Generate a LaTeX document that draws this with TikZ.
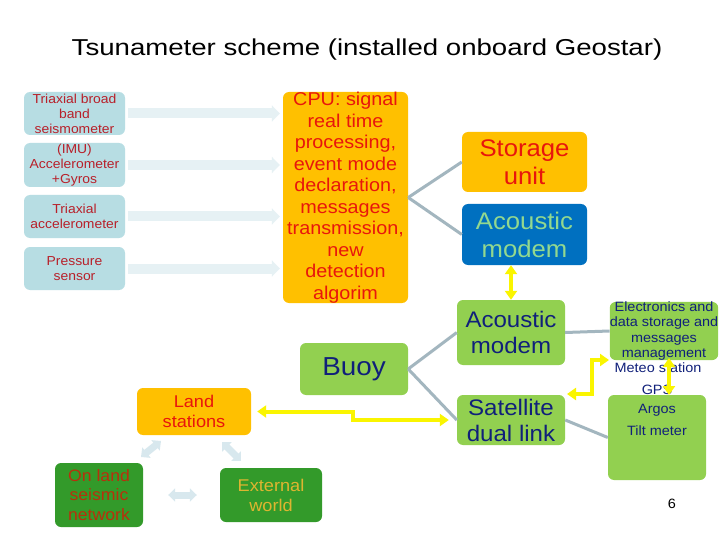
\documentclass[tikz,border=0pt]{standalone}
\usepackage{fontspec}
\setmainfont[FakeStretch=1.07]{Liberation Sans}
\newfontfamily\titlefont[FakeStretch=1.2]{Liberation Sans}
\usetikzlibrary{arrows.meta}
\definecolor{tealbox}{HTML}{B7DDE3}
\definecolor{sensred}{HTML}{B8202A}
\definecolor{faintc}{HTML}{E6F1F4}
\definecolor{faintd}{HTML}{D8E8EE}
\definecolor{orng}{HTML}{FFC000}
\definecolor{cpured}{HTML}{E8160C}
\definecolor{blu}{HTML}{0070C0}
\definecolor{mint}{HTML}{92D88F}
\definecolor{grn}{HTML}{92D050}
\definecolor{navy}{HTML}{10207A}
\definecolor{grayc}{HTML}{A3B6BF}
\definecolor{yel}{HTML}{FAF500}
\definecolor{dgrn}{HTML}{339A2A}
\definecolor{brred}{HTML}{B8300C}
\definecolor{gold}{HTML}{DDB530}
\begin{document}
\begin{tikzpicture}[x=1pt,y=-1pt]
\tikzset{
  rbox/.style={rounded corners=6pt, inner sep=0pt, align=center, anchor=center},
  sensor/.style={rbox, fill=tealbox, text=sensred, minimum width=101pt, minimum height=43pt, font=\fontsize{13}{15}\selectfont},
  orangebox/.style={rbox, fill=orng, text=cpured},
  greenbox/.style={rbox, fill=grn, text=navy},
  darkbox/.style={rbox, fill=dgrn},
  faint/.style={draw=faintc, line width=10pt, -{Triangle[length=8pt,width=16pt]}},
  faintdbl/.style={draw=faintd, line width=7pt, {Triangle[length=7pt,width=13pt]}-{Triangle[length=7pt,width=13pt]}},
  ylw/.style={draw=yel, line width=4pt, {Triangle[length=9pt,width=12pt]}-{Triangle[length=9pt,width=12pt]}},
  gline/.style={draw=grayc, line width=3pt},
  plain/.style={inner sep=0pt, anchor=center, text=navy, font=\fontsize{13.5}{15}\selectfont}
}
\useasboundingbox (0,0) rectangle (720,540);
\fill[white] (0,0) rectangle (720,540);

\node[inner sep=0pt, font=\titlefont\fontsize{23}{26}\selectfont] (title) at (367,50) {Tsunameter scheme (installed onboard Geostar)};

% sensors
\node[sensor] (s1) at (74.5,113.5) {Triaxial broad\\band\\seismometer};
\node[sensor, minimum height=44pt] (s2) at (74.5,165) {(IMU)\\Accelerometer\\+Gyros};
\node[sensor] (s3) at (74.5,216.5) {Triaxial\\accelerometer};
\node[sensor] (s4) at (74.5,268.5) {Pressure\\sensor};

% CPU
\node[orangebox, minimum width=125pt, minimum height=211pt, font=\fontsize{18.5}{21.5}\selectfont] (cpu) at (345.5,197.5)
  {CPU: signal\\real time\\processing,\\event mode\\declaration,\\messages\\transmission,\\new\\detection\\algorim};

\foreach \s in {s1,s2,s3,s4}
  \draw[faint, shorten <=3pt, shorten >=3pt] (\s.east) -- (\s.east -| cpu.west);

% storage and acoustic modems
\node[orangebox, minimum width=125pt, minimum height=60pt, font=\fontsize{24}{28}\selectfont] (stor) at (524.5,162) {Storage\\unit};
\node[rbox, fill=blu, text=mint, minimum width=125pt, minimum height=61pt, font=\fontsize{24}{28}\selectfont] (acb) at (524.5,234.5) {Acoustic\\modem};
\node[greenbox, minimum width=108pt, minimum height=65pt, font=\fontsize{22.5}{26}\selectfont] (acg) at (511,332.5) {Acoustic\\modem};
\node[greenbox, minimum width=108pt, minimum height=52pt, font=\fontsize{26}{30}\selectfont] (buoy) at (354,369) {Buoy};
\node[greenbox, minimum width=108pt, minimum height=50pt, font=\fontsize{22.5}{26}\selectfont] (sat) at (511,420) {Satellite\\dual link};

% right side
\node[greenbox, minimum width=108pt, minimum height=52pt, font=\fontsize{13.5}{15.2}\selectfont] (elec) at (664,331) {Electronics and\\data storage and\\messages\\management};
\node[rbox, fill=grn, minimum width=98pt, minimum height=85pt] (argbox) at (657,437.5) {};
\node[plain] (meteo) at (658,368) {Meteo station};
\node[plain] (gps) at (657,390) {GPS};
\node[plain] (argos) at (657,410) {Argos};
\node[plain] (tilt) at (657,431) {Tilt meter};
\node[inner sep=0pt, font=\fontsize{13.5}{15}\selectfont] (num) at (672,504) {6};

% land
\node[orangebox, minimum width=114pt, minimum height=47pt, font=\fontsize{17}{20}\selectfont] (land) at (194,411.5) {Land\\stations};
\node[darkbox, text=brred, minimum width=88pt, minimum height=64pt, font=\fontsize{16.5}{19.5}\selectfont] (onland) at (99,495) {On land\\seismic\\network};
\node[darkbox, text=gold, minimum width=102pt, minimum height=54pt, font=\fontsize{17}{20}\selectfont] (ext) at (271,495) {External\\world};

% gray connectors
\draw[gline] (cpu.east) -- (stor.west);
\draw[gline] (cpu.east) -- (acb.west);
\draw[gline] (buoy.east) -- (acg.west);
\draw[gline] (buoy.east) -- (sat.west);
\draw[gline] (acg.east) -- (elec.west);
\draw[gline] (sat.east) -- (argbox.west);

% yellow arrows
\draw[ylw] (acg.north) -- (acg.north |- acb.south);
\coordinate (k1) at (353,0);
\draw[ylw, shorten <=6pt, shorten >=8pt] (land.east) -- (land.east -| k1) |- (sat.west);
\coordinate (y1) at (567,394);
\coordinate (y2) at (592,394);
\coordinate (y3) at (592,360);
\coordinate (y4) at (609,360);
\draw[ylw] (y1) -- (y2) -- (y3) -- (y4);
\coordinate (e1) at (669,358);
\coordinate (e2) at (669,395);
\draw[ylw] (e1) -- (e2);

% faint bottom arrows
\coordinate (la1) at (141,457);
\coordinate (la2) at (161,441);
\draw[faintdbl] (la1) -- (la2);
\coordinate (le1) at (222,442);
\coordinate (le2) at (241,461);
\draw[faintdbl] (le1) -- (le2);
\draw[faintdbl, shorten <=25pt, shorten >=23pt] (onland.east) -- (ext.west);
\end{tikzpicture}
\end{document}
